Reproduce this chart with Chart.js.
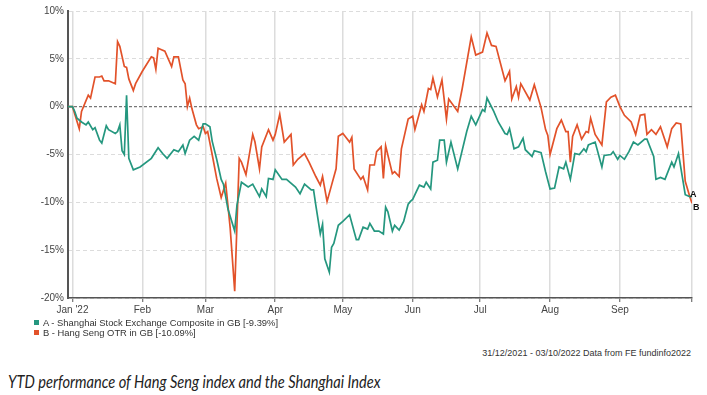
<!DOCTYPE html>
<html>
<head>
<meta charset="utf-8">
<script src="https://cdn.jsdelivr.net/npm/chart.js@4.4.0/dist/chart.umd.min.js"></script>
<style>
  body { margin: 0; background: #fff; width: 707px; height: 395px; overflow: hidden; position: relative;
         font-family: "Liberation Sans", Arial, sans-serif; }
  #wrap { position: absolute; left: 0; top: 0; width: 707px; height: 320px; }
  .legend { position: absolute; left: 34px; top: 318px; font-size: 9.4px; color: #333; line-height: 10px; }
  .legend i { display: inline-block; width: 5px; height: 5px; margin-right: 4px; vertical-align: 1px; }
  .source { position: absolute; right: 16px; top: 348px; font-size: 9px; color: #333; }
  .caption { position: absolute; left: 8px; top: 371px; font-family: Lato, "Open Sans", sans-serif;
             font-style: italic; font-size: 17px; color: #222; transform: scaleX(0.86); transform-origin: left top;
             white-space: nowrap; }
</style>
</head>
<body>
<div id="wrap"><canvas id="chart"></canvas></div>
<div class="legend">
  <div><i style="background:#25977f"></i>A - Shanghai Stock Exchange Composite in GB [-9.39%]</div>
  <div><i style="background:#e2522a"></i>B - Hang Seng OTR in GB [-10.09%]</div>
</div>
<div class="source">31/12/2021 - 03/10/2022 Data from FE fundinfo2022</div>
<div class="caption">YTD performance of Hang Seng index and the Shanghai Index</div>
<script>
// days counted from 1 Jan 2022 (-1 = 31 Dec 2021)
const monthDays = [1, 32, 60, 91, 121, 152, 182, 213, 244, 276];
const monthLabels = ["Jan '22", "Feb", "Mar", "Apr", "May", "Jun", "Jul", "Aug", "Sep", ""];
const yTicks = [10, 5, 0, -5, -10, -15, -20];

// A - Shanghai Stock Exchange Composite (% change)
const daysA = [-1,1,2,3,5,7,8,10,11,13,14,16,17,20,21,22,23,24,25,26,28,31,36,39,41,43,46,48,50,51,53,55,57,59,60,62,63,65,67,68,70,73,74,76,79,81,84,85,87,88,90,91,94,96,100,102,104,107,108,109,111,112,113,115,116,117,119,121,124,127,128,130,132,133,135,137,139,140,141,143,144,146,148,150,151,152,155,157,158,160,161,163,164,166,167,169,172,176,178,180,183,184,185,188,190,193,194,195,197,199,201,202,205,206,209,211,213,215,217,219,220,222,224,226,228,229,230,233,236,237,240,241,243,244,246,248,250,252,255,256,259,260,262,264,267,268,270,273,275,276];
const shanghai = [0,0,-0.5,-1.2,-1.6,-1.9,-1.6,-2.4,-2.2,-3.5,-3.8,-2.0,-2.4,-2.8,-2.6,-1.9,-4.6,-5.0,1.2,-5.4,-6.6,-6.3,-5.4,-4.3,-4.9,-5.4,-4.5,-4.7,-4.0,-4.9,-3.5,-3.1,-3.5,-1.8,-1.8,-2.1,-3.6,-5.5,-7.6,-8.1,-10.7,-13.0,-10.3,-7.9,-8.4,-8.1,-9.4,-8.6,-9.4,-7.5,-7.6,-6.6,-7.6,-7.6,-8.4,-9.1,-8.1,-8.7,-8.7,-10.3,-13.3,-12.3,-15.9,-17.3,-14.7,-14.3,-12.4,-12.0,-11.3,-13.9,-13.9,-12.6,-12.8,-12.2,-13.0,-13.0,-13.3,-10.5,-11.0,-13.0,-12.4,-12.9,-12.0,-10.2,-9.9,-9.7,-8.2,-8.4,-7.9,-8.6,-5.8,-5.6,-3.5,-3.5,-5.8,-3.7,-6.5,-2.6,-1.0,-1.9,-0.3,-0.5,0.9,-0.5,-1.6,-2.8,-2.9,-2.3,-4.4,-4.2,-3.3,-4.5,-5.2,-4.6,-4.8,-6.8,-8.6,-8.5,-6.3,-6.5,-5.8,-7.6,-4.9,-5.0,-4.4,-4.7,-4.0,-3.7,-6.3,-5.1,-5.0,-4.7,-5.5,-5.1,-5.5,-4.7,-3.7,-4.0,-3.4,-3.4,-5.2,-7.6,-7.4,-7.6,-5.8,-6.3,-4.9,-9.2,-9.4,-9.39];

// B - Hang Seng OTR (% change)
const daysB = [-1,1,4,5,8,9,11,13,14,15,17,20,21,22,24,25,26,28,29,32,36,37,38,39,40,42,45,46,48,50,51,52,53,54,56,57,59,60,61,63,65,67,69,71,73,75,76,78,81,82,84,85,88,90,91,93,95,98,99,101,104,106,109,111,112,114,116,118,119,121,122,124,125,126,129,130,132,133,135,136,138,139,140,143,144,146,147,150,152,153,156,157,159,160,161,163,165,167,168,172,174,178,180,183,185,187,189,193,195,196,198,199,200,204,206,209,211,212,213,216,218,220,221,222,223,225,227,229,230,231,233,236,238,240,242,244,246,249,251,253,255,256,258,260,262,265,267,269,271,273,275,276];
const hangSeng = [0,0,-2.3,-0.5,1.2,0.9,3.1,3.1,3.2,2.7,2.7,2.4,6.8,6.3,4.2,4.1,2.9,1.7,2.4,3.7,5.2,5.1,3.9,6.1,6.0,5.8,4.2,5.2,5.2,2.8,2.4,0,0.9,-0.2,-1.9,-2.3,-2.1,-2.8,-2.6,-5.0,-7.5,-9.5,-8.0,-12.7,-19.3,-5.4,-5.8,-7.1,-2.9,-3.7,-6.5,-4.2,-2.4,-3.5,-2.9,-0.8,-3.7,-2.9,-6.1,-5.5,-4.9,-5.8,-7.3,-8.2,-7.3,-9.9,-8.2,-6.5,-3.1,-2.8,-3.1,-3.7,-3.2,-6.5,-7.6,-7.3,-8.7,-6.1,-6.1,-4.7,-4.2,-7.5,-4.1,-7.0,-6.8,-7.3,-4.4,-1.3,-1.0,-2.4,0.2,-0.5,1.9,1.8,3.0,1.0,2.8,-1.3,0.8,-0.5,1.9,7.3,5.4,5.7,7.7,6.4,6.3,2.7,3.7,0.8,2.1,1.0,2.4,0.7,2.3,-0.1,-2.4,-3.0,-5.0,-2.3,-1.4,-2.6,-2.6,-5.8,-3.1,-1.9,-3.4,-2.6,-2.7,-1.2,-2.9,-4.0,0.5,1.0,1.2,0,-0.9,-1.6,-2.9,-0.9,-0.8,-2.9,-2.4,-2.9,-2.1,-4.2,-2.3,-1.7,-1.8,-7.8,-9.4,-10.09];

const greenColor = "#25977f";
const redColor = "#e2522a";

// small "A" / "B" tags at the end of each line
const endTags = {
  id: "endTags",
  afterDatasetsDraw(chart) {
    const ctx = chart.ctx;
    const tags = [["A", -2, -2], ["B", 1, 4]];
    ctx.save();
    ctx.font = "bold 9px 'Liberation Sans', Arial";
    ctx.fillStyle = "#111";
    ctx.textAlign = "left";
    ctx.textBaseline = "middle";
    chart.data.datasets.forEach((ds, i) => {
      const pts = chart.getDatasetMeta(i).data;
      const p = pts[pts.length - 1];
      ctx.fillText(tags[i][0], p.x + tags[i][1], p.y + tags[i][2]);
    });
    ctx.restore();
  }
};

new Chart(document.getElementById("chart"), {
  type: "line",
  data: {
    datasets: [
      {
        label: "A - Shanghai Stock Exchange Composite in GB [-9.39%]",
        data: daysA.map((d, i) => ({ x: d, y: shanghai[i] })),
        borderColor: greenColor,
        borderWidth: 1.7,
        pointRadius: 0,
        tension: 0
      },
      {
        label: "B - Hang Seng OTR in GB [-10.09%]",
        data: daysB.map((d, i) => ({ x: d, y: hangSeng[i] })),
        borderColor: redColor,
        borderWidth: 1.7,
        pointRadius: 0,
        tension: 0
      }
    ]
  },
  options: {
    responsive: true,
    maintainAspectRatio: false,
    animation: false,
    layout: { padding: { left: 0, top: 11, right: 15, bottom: 0 } },
    plugins: { legend: { display: false }, tooltip: { enabled: false } },
    scales: {
      x: {
        type: "linear",
        min: -1,
        max: 276,
        afterBuildTicks: (scale) => { scale.ticks = monthDays.map(v => ({ value: v })); },
        afterFit: (scale) => { scale.height = 22; },
        ticks: {
          autoSkip: false,
          maxRotation: 0,
          padding: 2,
          color: "#444",
          font: { family: "'Liberation Sans', Arial", size: 10 },
          callback: (v, i) => monthLabels[i]
        },
        grid: { color: "#dcdcdc", lineWidth: 1.5, tickLength: 4, tickColor: "#555", tickWidth: 1 },
        border: { color: "#555", width: 1.5 }
      },
      y: {
        min: -20,
        max: 10,
        afterBuildTicks: (scale) => { scale.ticks = yTicks.map(v => ({ value: v })); },
        afterFit: (scale) => { scale.width = 68; },
        ticks: {
          padding: 4,
          color: "#444",
          font: { family: "'Liberation Sans', Arial", size: 10 },
          callback: (v) => v + "%"
        },
        grid: {
          drawTicks: false,
          color: (c) => (c.tick && c.tick.value === 0 ? "#777" : "#dcdcdc"),
          lineWidth: (c) => (c.tick && c.tick.value === 0 ? 1.2 : 1)
        },
        border: {
          color: "#555",
          width: 2,
          dash: (c) => (c.tick && c.tick.value === 0 ? [3, 2] : [4, 3])
        }
      }
    }
  },
  plugins: [endTags]
});
</script>
</body>
</html>
